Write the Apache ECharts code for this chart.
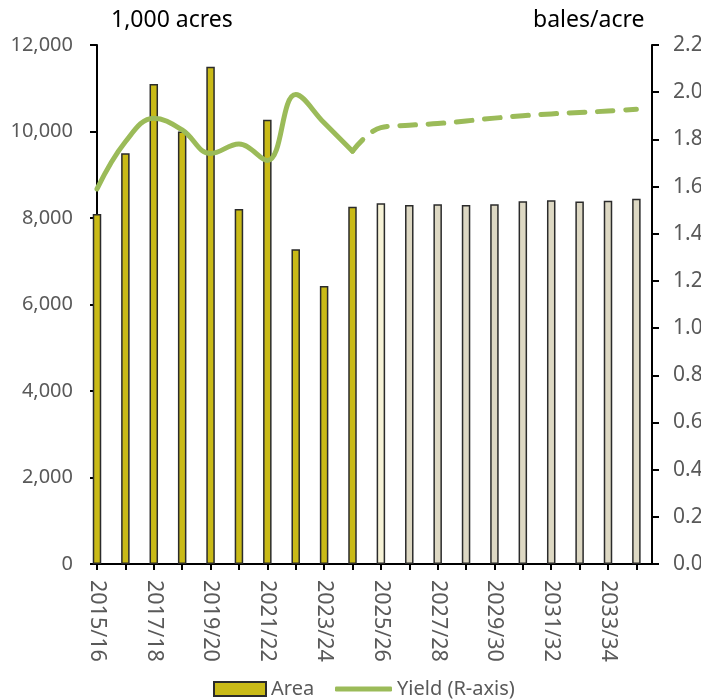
<!DOCTYPE html>
<html>
<head>
<meta charset="utf-8">
<script src="https://cdn.jsdelivr.net/npm/echarts@6/dist/echarts.min.js"></script>
<style>html,body{margin:0;padding:0;background:#fff;}#c{width:701px;height:699px;}</style>
</head>
<body>
<div id="c"></div>
<script>
var categories = ['2015/16','2016/17','2017/18','2018/19','2019/20','2020/21','2021/22','2022/23','2023/24','2024/25',
  '2025/26','2026/27','2027/28','2028/29','2029/30','2030/31','2031/32','2032/33','2033/34','2034/35'];
var areaValues = [8090, 9500, 11100, 10000, 11500, 8210, 10270, 7280, 6430, 8260,
  8340, 8300, 8320, 8300, 8320, 8385, 8410, 8380, 8400, 8445];
var yieldValues = [1.59, 1.79, 1.89, 1.84, 1.74, 1.78, 1.71, 1.99, 1.87, 1.75,
  1.85, 1.86, 1.867, 1.878, 1.89, 1.90, 1.908, 1.914, 1.92, 1.928];
var lastHistIndex = 9;      // 2024/25: last historical year
var firstBaselineIndex = 11; // after 2025/26 projection year
var leftTicks = [0, 2000, 4000, 6000, 8000, 10000, 12000];
var rightTicks = [0, 0.2, 0.4, 0.6, 0.8, 1.0, 1.2, 1.4, 1.6, 1.8, 2.0, 2.2];

var FONT = 'Noto Sans';
var idx = categories.map(function (c, i) { return i; });

function barColor(i) {
  if (i <= lastHistIndex) return '#C9BA17';
  if (i < firstBaselineIndex) return '#F6F2D6';
  return '#DDD8C3';
}

var barData = areaValues.map(function (v, i) {
  return { value: [i, v], itemStyle: { color: barColor(i) } };
});
var yieldHist = [], yieldProj = [];
yieldValues.forEach(function (v, i) {
  if (i <= lastHistIndex) yieldHist.push([i, v]);
  if (i >= lastHistIndex) yieldProj.push([i, v]);
});

var chart = echarts.init(document.getElementById('c'), null, { renderer: 'canvas' });
chart.setOption({
  animation: false,
  backgroundColor: '#fff',
  textStyle: { fontFamily: FONT },
  title: [
    { text: '1,000 acres', left: 106, top: 4, textStyle: { fontFamily: FONT, fontSize: 23, fontWeight: 'normal', color: '#000' } },
    { text: 'bales/acre', left: 528, top: 4, textStyle: { fontFamily: FONT, fontSize: 23, fontWeight: 'normal', color: '#000' } }
  ],
  grid: { left: 97, right: 49, top: 45, bottom: 135, containLabel: false, outerBoundsMode: 'none' },
  legend: [
    { data: ['Area'], left: 208, top: 674, itemWidth: 52, itemHeight: 14, icon: 'rect',
      textStyle: { fontFamily: FONT, fontSize: 20, color: '#595959' } },
    { data: ['Yield (R-axis)'], left: 330, top: 674, itemWidth: 57, itemHeight: 5, icon: 'roundRect',
      textStyle: { fontFamily: FONT, fontSize: 20, color: '#595959' } }
  ],
  xAxis: {
    type: 'value', min: 0, max: 19.55, interval: 1,
    splitLine: { show: false },
    axisLine: { show: true, lineStyle: { color: '#000', width: 2 } },
    axisTick: { show: true, length: 6, inside: false, lineStyle: { color: '#000', width: 2 },
      customValues: idx },
    axisLabel: {
      rotate: -90, margin: 16, fontFamily: FONT, fontSize: 21.5, color: '#595959',
      customValues: idx.filter(function (i) { return i % 2 === 0; }),
      formatter: function (v) { return categories[Math.round(v)] || ''; }
    }
  },
  yAxis: [
    {
      type: 'value', min: 0, max: 12000, interval: 2000, position: 'left',
      splitLine: { show: false },
      axisLine: { show: true, lineStyle: { color: '#000', width: 2 } },
      axisTick: { show: true, length: 7, lineStyle: { color: '#000', width: 2 } },
      axisLabel: { margin: 24, fontFamily: FONT, fontSize: 20, color: '#595959',
        formatter: function (v) { return v.toLocaleString('en-US'); } }
    },
    {
      type: 'value', min: 0, max: 2.2, interval: 0.2, position: 'right',
      splitLine: { show: false },
      axisLine: { show: true, lineStyle: { color: '#000', width: 2 } },
      axisTick: { show: true, length: 7, lineStyle: { color: '#000', width: 2 } },
      axisLabel: { margin: 21, fontFamily: FONT, fontSize: 21, color: '#595959', align: 'left',
        formatter: function (v) { return v.toFixed(1); } }
    }
  ],
  series: [
    {
      name: 'Area', type: 'bar', yAxisIndex: 0, barWidth: 8.5,
      itemStyle: { color: '#C9BA17', borderColor: '#2b2b2b', borderWidth: 1.5 },
      data: barData, z: 2
    },
    {
      name: 'Yield (R-axis)', type: 'line', yAxisIndex: 1, smooth: 0.4, symbol: 'none',
      itemStyle: { color: '#9BBB59' },
      lineStyle: { color: '#9BBB59', width: 5, cap: 'round', join: 'round' },
      data: yieldHist, z: 3
    },
    {
      name: 'Yield proj', type: 'line', yAxisIndex: 1, smooth: 0.4, symbol: 'none',
      itemStyle: { color: '#9BBB59' },
      lineStyle: { color: '#9BBB59', width: 5, cap: 'round', join: 'round', type: [15.5, 12.8], dashOffset: 0 },
      data: yieldProj, z: 3
    }
  ]
});
</script>
</body>
</html>
